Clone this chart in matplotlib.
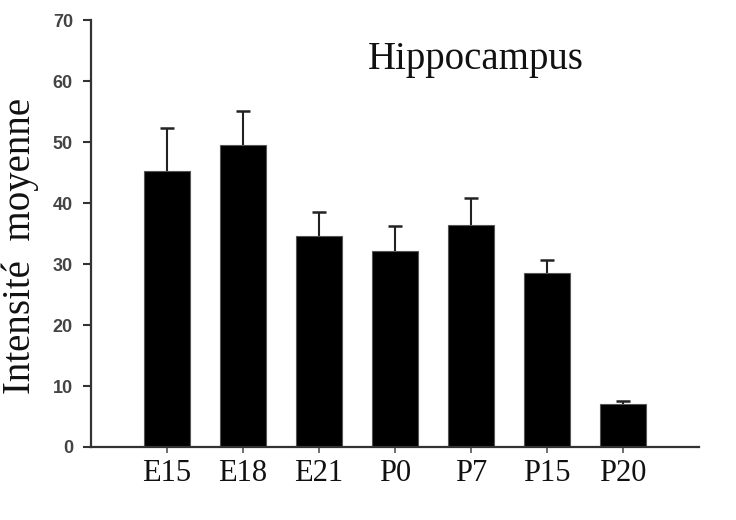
import matplotlib
matplotlib.use("Agg")
import matplotlib.pyplot as plt
import numpy as np

# Data
stages = ["E15", "E18", "E21", "P0", "P7", "P15", "P20"]
intensity = [45.3, 49.5, 34.6, 32.1, 36.4, 28.5, 7.0]
sem = [7.0, 5.6, 4.0, 4.2, 4.4, 2.1, 0.5]

fig = plt.figure(figsize=(7.36, 5.2), dpi=100)
ax = fig.add_axes([0.1236, 0.1404, 0.826, 0.821])

x = np.arange(len(stages))
ax.bar(x, intensity, width=0.6, color="black", edgecolor="#555555", linewidth=0.8, zorder=2)
eb = ax.errorbar(x, intensity, yerr=[np.zeros(len(sem)), sem], fmt="none",
                 ecolor="#222222", elinewidth=1.5, capsize=5, capthick=1.8, zorder=1)
# only the upper caps are visible in the original
eb[1][0].remove()

ax.set_xlim(-1, 7)
ax.set_ylim(0, 70)
ax.set_yticks(range(0, 71, 10))
ax.set_xticks(x)
ax.set_xticklabels(stages, fontfamily="Liberation Serif", fontsize=22, color="#111111")
for lbl in ax.get_yticklabels():
    lbl.set_fontfamily("Liberation Sans")
    lbl.set_fontsize(13)
    lbl.set_fontweight("bold")
    lbl.set_color("#444444")

for side in ["top", "right"]:
    ax.spines[side].set_visible(False)
for side in ["left", "bottom"]:
    ax.spines[side].set_linewidth(1.6)
    ax.spines[side].set_color("#333333")

ax.tick_params(axis="y", direction="out", length=6, width=1.5, color="#333333", pad=7)
ax.tick_params(axis="x", direction="out", length=4, width=1.2, color="#555555", pad=5)

ax.text(0.633, 0.885, "Hippocampus", transform=ax.transAxes, ha="center", va="baseline",
        fontfamily="Liberation Serif", fontsize=28, color="#111111")

fig.text(0.028, 0.527, "Intensité  moyenne", rotation=90, ha="center", va="center",
         fontfamily="Liberation Serif", fontsize=28, color="#111111")

fig.savefig("out.png", dpi=100)
